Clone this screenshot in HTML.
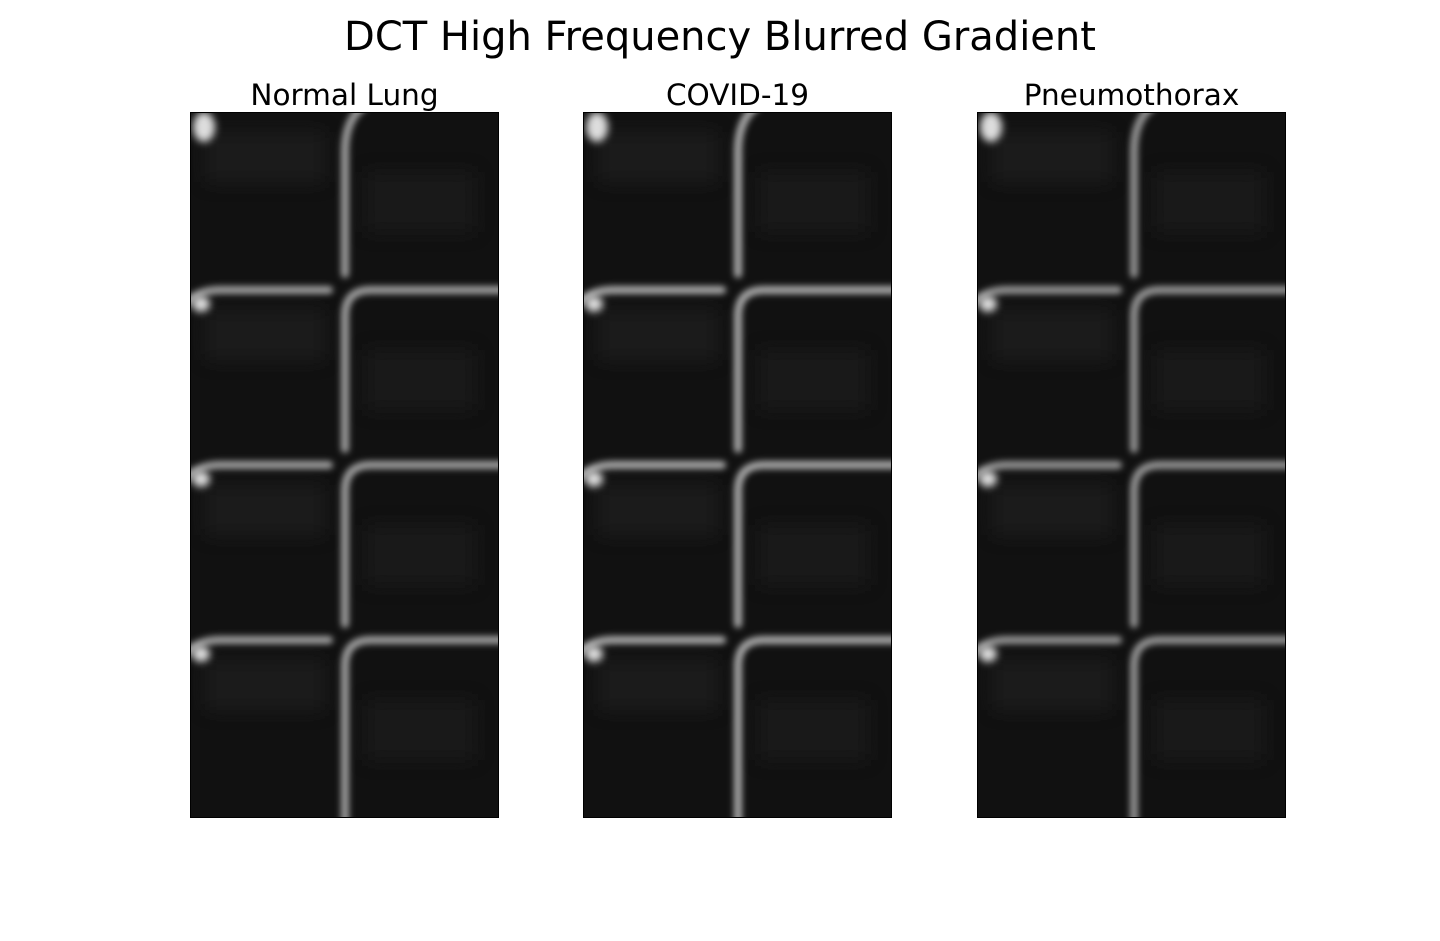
<!DOCTYPE html>
<html><head><meta charset="utf-8">
<style>
html,body{margin:0;padding:0;background:#fff;}
body{width:1440px;height:936px;overflow:hidden;font-family:"Liberation Sans","DejaVu Sans",sans-serif;}
</style></head>
<body>
<svg id="fig" width="1440" height="936" xmlns="http://www.w3.org/2000/svg">
<defs>
<filter id="blur" x="-10%" y="-10%" width="120%" height="120%"><feGaussianBlur stdDeviation="3.2"/></filter>
<filter id="blur2" x="-50%" y="-50%" width="200%" height="200%"><feGaussianBlur stdDeviation="4"/></filter>
<filter id="blur3" x="-10%" y="-10%" width="120%" height="120%"><feGaussianBlur stdDeviation="9"/></filter>
</defs>
<text x="720" y="50" text-anchor="middle" font-size="40" font-family="DejaVu Sans, sans-serif" fill="#000">DCT High Frequency Blurred Gradient</text>
</svg>
<script>
const panelTitles = ["Normal Lung", "COVID-19", "Pneumothorax"];
const panelLefts = [190, 583, 977];
const gridRowsY = [178, 353, 528];   // horizontal line offsets within panel (px from top)
const gridColX = [155, 155, 157];    // vertical line offset per panel
const lineBrightness = [0.62, 0.66, 0.58];
const panelW = 309, panelH = 706, panelTop = 112;
const svg = document.getElementById('fig');
const NS = 'http://www.w3.org/2000/svg';
function mk(tag, attrs, parent){const e=document.createElementNS(NS,tag);for(const k in attrs)e.setAttribute(k,attrs[k]);parent.appendChild(e);return e;}
panelTitles.forEach((title,i)=>{
  const x0=panelLefts[i], y0=panelTop, vx=x0+gridColX[i];
  const g=mk('g',{},svg);
  
  
  const t=mk('text',{x:x0+panelW/2,y:105,'text-anchor':'middle','font-size':29.5,'font-family':'DejaVu Sans, sans-serif',fill:'#000'},g);
  t.textContent=title;
  
  
  const clipId='clip'+i;
  const cp=mk('clipPath',{id:clipId},g);
  mk('rect',{x:x0,y:y0,width:panelW,height:panelH},cp);
  const img=mk('g',{'clip-path':'url(#'+clipId+')'},g);
  
  
  mk('rect',{x:x0,y:y0,width:panelW,height:panelH,fill:'#111'},img);
  const tex=mk('g',{filter:'url(#blur3)',opacity:0.5},img);
  for(let r=0;r<4;r++){const yb=y0+(r===0?0:gridRowsY[r-1]);
    mk('rect',{x:x0+15,y:yb+20,width:120,height:50,fill:'#262626'},tex);
    mk('rect',{x:vx+20,y:yb+60,width:110,height:60,fill:'#222'},tex);}
  const c=Math.round(255*lineBrightness[i]);
  const col='rgb('+c+','+c+','+c+')';
  const lines=mk('g',{filter:'url(#blur)',stroke:col,'stroke-width':8,fill:'none','stroke-linecap':'round'},img);
  mk('path',{d:`M ${vx+18} ${y0-5} Q ${vx} ${y0+8} ${vx} ${y0+40} L ${vx} ${y0+gridRowsY[0]-16}`},lines);
  gridRowsY.forEach((ry,k)=>{
    const y=y0+ry;
    const next=k+1<gridRowsY.length? y0+gridRowsY[k+1]-16 : y0+panelH+10;
    mk('path',{d:`M ${x0-5} ${y+14} Q ${x0+8} ${y} ${x0+30} ${y} L ${vx-16} ${y}`},lines);
    mk('path',{d:`M ${vx} ${next} L ${vx} ${y+26} Q ${vx} ${y} ${vx+26} ${y} L ${x0+panelW+5} ${y}`},lines);
  });
  const blobs=mk('g',{filter:'url(#blur2)',fill:'#ddd'},img);
  mk('ellipse',{cx:x0+14,cy:y0+15,rx:11,ry:15},blobs);
  gridRowsY.forEach(ry=>mk('ellipse',{cx:x0+11,cy:y0+ry+14,rx:9,ry:8},blobs));
  mk('rect',{x:x0+0.5,y:y0+0.5,width:panelW-1,height:panelH-1,fill:'none',stroke:'#000','stroke-width':1},g);
});
</script>
</body></html>
